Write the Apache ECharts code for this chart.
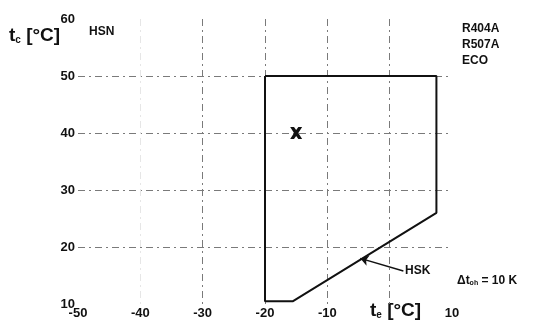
<!DOCTYPE html>
<html><head><meta charset="utf-8">
<script src="https://cdn.jsdelivr.net/npm/echarts@6/dist/echarts.min.js"></script>
<style>html,body{margin:0;padding:0;background:#fff}#c{width:534px;height:327px}</style>
</head><body><div id="c"></div>
<script>
// Data
const xTicks = [-50, -40, -30, -20, -10, 0, 10];
const yTicks = [10, 20, 30, 40, 50, 60];
const envelopeTe = [-20, 7.5, 7.5, -15.5, -20, -20];
const envelopeTc = [50, 50, 26, 10.5, 10.5, 50];
const pointTe = [-15];
const pointTc = [40];
const hskArrow = [[2.2, 15.8], [-4.7, 18.0]];
const refrigerants = ['R404A', 'R507A', 'ECO'];

const chart = echarts.init(document.getElementById('c'));
const F = 'Liberation Sans, Arial, sans-serif';
const dash = [7, 4, 2, 4];
const gridC = '#7a7a7a';
chart.setOption({
  animation: false,
  backgroundColor: '#fff',
  grid: { left: 78, top: 19, width: 374, height: 285, containLabel: false },
  xAxis: {
    type: 'value', min: xTicks[0], max: xTicks[xTicks.length - 1], interval: 10,
    axisLine: { show: false }, axisTick: { show: false },
    axisLabel: { color: '#111', fontFamily: F, fontWeight: 'bold', fontSize: 13, margin: 3,
      formatter: v => (v === 0 ? '' : String(v)) },
    splitLine: { show: true, showMinLine: false, showMaxLine: false,
      lineStyle: { color: ['#e6e6e6', gridC, gridC, gridC, gridC], type: dash, width: 1 } }
  },
  yAxis: {
    type: 'value', min: yTicks[0], max: yTicks[yTicks.length - 1], interval: 10,
    axisLine: { show: false }, axisTick: { show: false },
    axisLabel: { color: '#111', fontFamily: F, fontWeight: 'bold', fontSize: 13, margin: 3 },
    splitLine: { show: true, showMinLine: false, showMaxLine: false,
      lineStyle: { color: gridC, type: dash, width: 1 } }
  },
  series: [
    {
      type: 'line', symbol: 'none', silent: true,
      data: envelopeTe.map((t, i) => [t, envelopeTc[i]]),
      lineStyle: { color: '#111', width: 2 }
    },
    {
      type: 'scatter', silent: true,
      data: pointTe.map((t, i) => [t, pointTc[i]]),
      symbol: 'path://M0,0 L3.2,0 L5,2.6 L6.8,0 L10,0 L6.8,5 L10,10 L6.8,10 L5,7.4 L3.2,10 L0,10 L3.2,5 Z',
      symbolSize: 12, itemStyle: { color: '#111', opacity: 1 }
    },
    {
      type: 'line', symbol: 'none', silent: true,
      data: hskArrow, lineStyle: { width: 0 }, showSymbol: false,
      markLine: {
        silent: true, symbol: ['none', 'arrow'], symbolSize: 8,
        lineStyle: { color: '#111', width: 1.5, type: 'solid' },
        label: { show: false },
        data: [[{ coord: hskArrow[0] }, { coord: hskArrow[1] }]]
      }
    }
  ],
  graphic: [
    { type: 'text', left: 9, top: 26, style: {
      text: '{a|t}{s|c}{a| [°C]}', rich: {
        a: { fontFamily: F, fontWeight: 'bold', fontSize: 19, fill: '#111' },
        s: { fontFamily: F, fontWeight: 'bold', fontSize: 10, fill: '#111', verticalAlign: 'bottom', padding: [9, 0, 0, 0] } } } },
    { type: 'text', left: 370, top: 301, style: {
      text: '{a|t}{s|e}{a| [°C]}', rich: {
        a: { fontFamily: F, fontWeight: 'bold', fontSize: 19, fill: '#111' },
        s: { fontFamily: F, fontWeight: 'bold', fontSize: 10, fill: '#111', verticalAlign: 'bottom', padding: [9, 0, 0, 0] } } } },
    { type: 'text', left: 89, top: 26, style: { text: 'HSN', font: 'bold 12px ' + F, fill: '#111' } },
    { type: 'text', left: 462, top: 21, style: { text: refrigerants.join('\n'), font: 'bold 12px ' + F, lineHeight: 16, fill: '#111' } },
    { type: 'text', left: 405, top: 265, style: { text: 'HSK', font: 'bold 12px ' + F, fill: '#111' } },
    { type: 'text', left: 457, top: 275, style: {
      text: '{a|Δt}{s|oh}{a| = 10 K}', rich: {
        a: { fontFamily: F, fontWeight: 'bold', fontSize: 12, fill: '#111' },
        s: { fontFamily: F, fontWeight: 'bold', fontSize: 7, fill: '#111', padding: [5, 0, 0, 0] } } } }
  ]
});
</script></body></html>
